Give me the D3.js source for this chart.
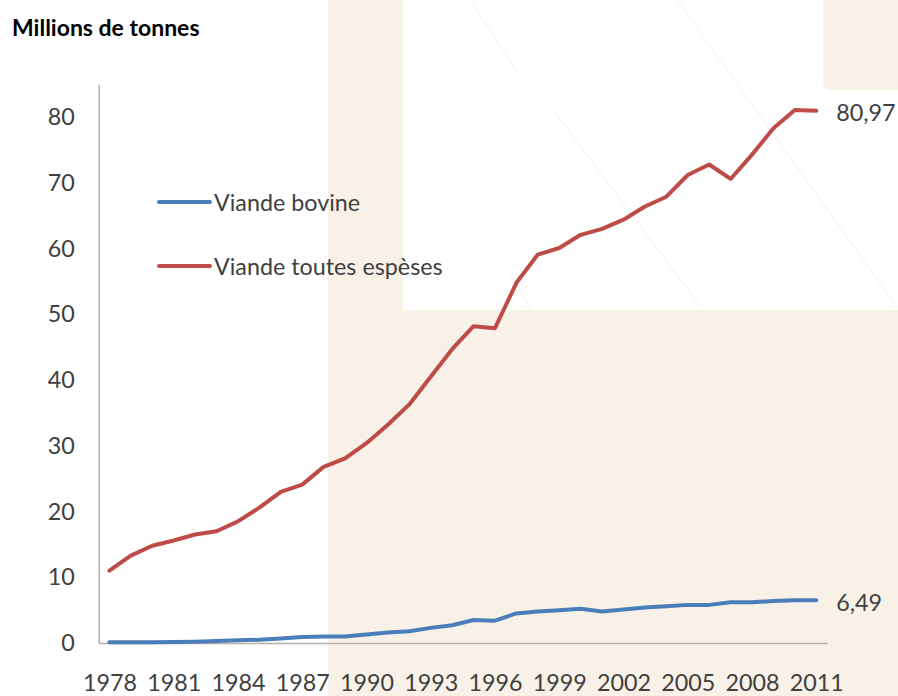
<!DOCTYPE html>
<html>
<head>
<meta charset="utf-8">
<script src="https://cdn.jsdelivr.net/npm/d3@7"></script>
<style>
  html, body { margin: 0; padding: 0; background: #ffffff; }
  svg { display: block; }
  text { font-family: Lato, "Open Sans", sans-serif; }
</style>
</head>
<body>
<svg id="chart" width="898" height="696"></svg>
<script>
const years = d3.range(1978, 2012);
const seriesNames = ["Viande bovine", "Viande toutes espèses"];
const bovine = [0.1, 0.1, 0.1, 0.15, 0.2, 0.3, 0.4, 0.5, 0.7, 0.9, 1.0, 1.0,
  1.3, 1.6, 1.8, 2.3, 2.7, 3.5, 3.4, 4.5, 4.8, 5.0, 5.2, 4.8, 5.1, 5.4, 5.6,
  5.8, 5.8, 6.2, 6.2, 6.4, 6.5, 6.49];
const toutes = [11.0, 13.3, 14.8, 15.6, 16.5, 17.0, 18.5, 20.6, 23.0, 24.1,
  26.8, 28.1, 30.4, 33.2, 36.3, 40.5, 44.7, 48.2, 47.9, 54.8, 59.1, 60.1,
  62.1, 63.0, 64.4, 66.4, 67.9, 71.2, 72.8, 70.6, 74.3, 78.3, 81.1, 80.97];
const yTicks = [0, 10, 20, 30, 40, 50, 60, 70, 80];
const xTickYears = d3.range(1978, 2012, 3);
const endLabels = ["6,49", "80,97"];
const yTitle = "Millions de tonnes";

const colors = ["#4a7ebb", "#be4b48"];
const svg = d3.select("#chart");
const W = 898, H = 696;
const FS = 23.3;

// background decoration
svg.append("rect").attr("x", 328).attr("y", 0).attr("width", W - 328).attr("height", H).attr("fill", "#f8f1e8");
svg.append("rect").attr("x", 403).attr("y", 0).attr("width", W - 403).attr("height", 310).attr("fill", "#ffffff");
svg.append("path")
  .attr("d", "M823,0 H898 V90 H831 Q823,90 823,82 Z")
  .attr("fill", "#f8f1e8");
const diag = svg.append("g").attr("stroke", "#f8f4ef").attr("stroke-width", 1.2).attr("fill", "none");
diag.append("line").attr("x1", 470).attr("y1", 0).attr("x2", 518).attr("y2", 73);
diag.append("line").attr("x1", 553).attr("y1", 110).attr("x2", 700).attr("y2", 306);
diag.append("line").attr("x1", 510).attr("y1", 273).attr("x2", 530).attr("y2", 308);
diag.append("line").attr("x1", 677).attr("y1", 0).attr("x2", 897).attr("y2", 307);
diag.append("line").attr("x1", 860).attr("y1", 30).attr("x2", 898).attr("y2", 85).attr("stroke", "#f6efe6");

// scales
const x = d3.scalePoint().domain(years).range([98.7, 827]).padding(0.5);
const y = d3.scaleLinear().domain([0, 85]).range([643, 84.3]);

// y axis
const yAxis = svg.append("g").attr("transform", "translate(98.7,0)")
  .call(d3.axisLeft(y).tickValues(yTicks).tickSize(0).tickPadding(24));
yAxis.select(".domain").attr("stroke", "#a6a6a6").attr("stroke-width", 1.3);
yAxis.selectAll("text").attr("font-size", FS).attr("fill", "#404040")
  .attr("font-family", "Lato, 'Open Sans', sans-serif");

// x axis
const xAxis = svg.append("g").attr("transform", "translate(0,643)")
  .call(d3.axisBottom(x).tickValues(xTickYears).tickSize(0).tickPadding(31).tickFormat(d3.format("d")));
xAxis.select(".domain").attr("stroke", "#b8b0a6").attr("stroke-width", 1.3);
xAxis.selectAll("text").attr("font-size", FS).attr("fill", "#404040")
  .attr("font-family", "Lato, 'Open Sans', sans-serif");

// lines
const line = d3.line().x((d, i) => x(years[i])).y(d => y(d));
[bovine, toutes].forEach((s, k) => {
  svg.append("path").datum(s)
    .attr("d", line)
    .attr("fill", "none")
    .attr("stroke", colors[k])
    .attr("stroke-width", 4)
    .attr("stroke-linejoin", "round")
    .attr("stroke-linecap", "round");
});

// end labels
[bovine, toutes].forEach((s, k) => {
  svg.append("text")
    .attr("x", x(years[years.length - 1]) + 20)
    .attr("y", y(s[s.length - 1]) + 1.5)
    .attr("dominant-baseline", "central")
    .attr("font-size", FS)
    .attr("fill", "#404040")
    .text(endLabels[k]);
});

// legend
const legendY = [202, 266];
seriesNames.forEach((name, k) => {
  svg.append("line").attr("x1", 159).attr("x2", 210)
    .attr("y1", legendY[k]).attr("y2", legendY[k])
    .attr("stroke", colors[k]).attr("stroke-width", 4).attr("stroke-linecap", "round");
  svg.append("text").attr("x", 214).attr("y", legendY[k])
    .attr("dominant-baseline", "central")
    .attr("font-size", FS).attr("fill", "#404040")
    .text(name);
});

// title
svg.append("text").attr("x", 12).attr("y", 36)
  .attr("font-size", 23).attr("font-weight", "bold").attr("fill", "#000000")
  .text(yTitle);
</script>
</body>
</html>
